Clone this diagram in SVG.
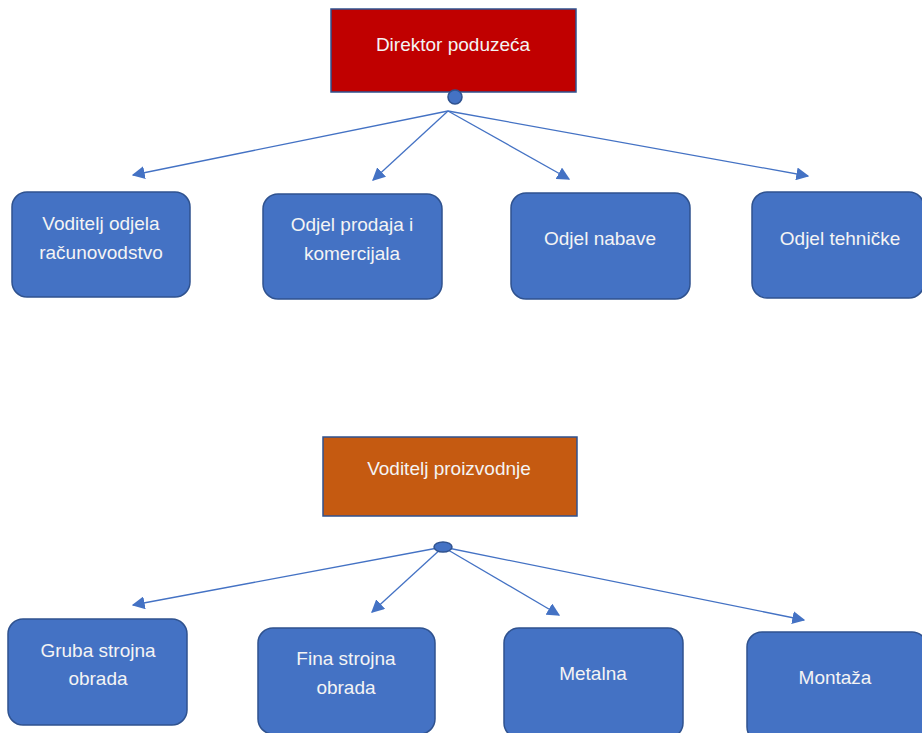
<svg xmlns="http://www.w3.org/2000/svg" width="922" height="733" viewBox="0 0 922 733">
<defs>
<marker id="arr" viewBox="0 0 10 10" refX="9" refY="5" markerWidth="13" markerHeight="13" markerUnits="userSpaceOnUse" orient="auto">
<path d="M0,0 L10,5 L0,10 z" fill="#4472C4"/>
</marker>
</defs>
<style>
.box{fill:#4472C4;stroke:#2F528F;stroke-width:1.5}
.head{stroke:#2F528F;stroke-width:1.5}
.t{font-family:"Liberation Sans",Arial,sans-serif;font-size:19px;fill:#F4F4F4;text-anchor:middle}
.c{stroke:#4472C4;stroke-width:1.3;fill:none;marker-end:url(#arr)}
</style>
<rect width="922" height="733" fill="#FFFFFF"/>
<g id="connectors">
<line class="c" x1="448" y1="111" x2="133" y2="175"/>
<line class="c" x1="448" y1="111" x2="373" y2="180"/>
<line class="c" x1="448" y1="111" x2="569" y2="179"/>
<line class="c" x1="448" y1="111" x2="808" y2="176"/>
<line class="c" x1="443" y1="547" x2="133" y2="605"/>
<line class="c" x1="443" y1="547" x2="372" y2="612"/>
<line class="c" x1="443" y1="547" x2="559" y2="615"/>
<line class="c" x1="443" y1="547" x2="804" y2="620"/>
</g>
<g id="director">
<rect class="head" x="331" y="9" width="245" height="83" fill="#C00000"/>
<text class="t" x="453" y="51">Direktor poduzeća</text>
<circle cx="455" cy="97" r="7" fill="#4472C4" stroke="#2F528F" stroke-width="1.5"/>
</g>
<g id="racunovodstvo">
<rect class="box" x="12" y="192" width="178" height="105" rx="15"/>
<text class="t" x="101" y="230">Voditelj odjela</text>
<text class="t" x="101" y="259">računovodstvo</text>
</g>
<g id="prodaja">
<rect class="box" x="263" y="194" width="179" height="105" rx="15"/>
<text class="t" x="352" y="231">Odjel prodaja i</text>
<text class="t" x="352" y="260">komercijala</text>
</g>
<g id="nabava">
<rect class="box" x="511" y="193" width="179" height="106" rx="15"/>
<text class="t" x="600" y="245">Odjel nabave</text>
</g>
<g id="tehnicka">
<rect class="box" x="752" y="192" width="172" height="106" rx="15"/>
<text class="t" x="840" y="245">Odjel tehničke</text>
</g>
<g id="proizvodnja">
<rect class="head" x="323" y="437" width="254" height="79" fill="#C55A11"/>
<text class="t" x="449" y="475">Voditelj proizvodnje</text>
<ellipse cx="443" cy="547" rx="9" ry="5" fill="#4472C4" stroke="#2F528F" stroke-width="1.5"/>
</g>
<g id="gruba">
<rect class="box" x="8" y="619" width="179" height="106" rx="15"/>
<text class="t" x="98" y="657">Gruba strojna</text>
<text class="t" x="98" y="685">obrada</text>
</g>
<g id="fina">
<rect class="box" x="258" y="628" width="177" height="106" rx="15"/>
<text class="t" x="346" y="665">Fina strojna</text>
<text class="t" x="346" y="694">obrada</text>
</g>
<g id="metalna">
<rect class="box" x="504" y="628" width="179" height="110" rx="15"/>
<text class="t" x="593" y="680">Metalna</text>
</g>
<g id="montaza">
<rect class="box" x="747" y="632" width="180" height="110" rx="15"/>
<text class="t" x="835" y="684">Montaža</text>
</g>
</svg>
